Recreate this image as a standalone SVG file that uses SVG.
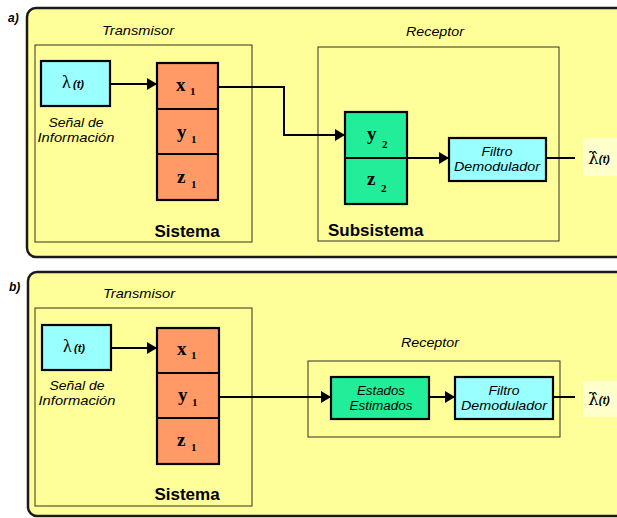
<svg xmlns="http://www.w3.org/2000/svg" width="617" height="518" viewBox="0 0 617 518">
<style>
.panel{fill:#FFFF99;stroke:#1a1a1a;stroke-width:2.5}
.frame{fill:none;stroke:#333322;stroke-width:1}
.blk{stroke:#000;stroke-width:2.2}
.cyan{fill:#99FFFF}
.orange{fill:#FF9966}
.green{fill:#22EE99}
.lbl{font-family:"Liberation Sans",Arial,sans-serif;font-style:italic;font-size:13px;fill:#000;text-anchor:middle}
.big{font-family:"Liberation Sans",Arial,sans-serif;font-weight:bold;font-size:17px;fill:#000}
.var{font-family:"Liberation Serif","Times New Roman",serif;font-weight:bold;font-size:19px;fill:#000}
.sub{font-family:"Liberation Serif","Times New Roman",serif;font-weight:bold;font-size:11px;fill:#000}
.lam{font-family:"Liberation Serif","Times New Roman",serif;font-size:18px;fill:#000}
.hat{font-family:"DejaVu Serif","Liberation Serif",serif;font-size:17px;fill:#000}
.t{font-family:"Liberation Sans",Arial,sans-serif;font-style:italic;font-weight:bold;font-size:11px;fill:#000}
.tag{font-family:"Liberation Sans",Arial,sans-serif;font-style:italic;font-weight:bold;font-size:12px;fill:#000}
.conn{fill:none;stroke:#000;stroke-width:2}
</style>
<defs>
<marker id="ah" viewBox="0 0 10 12" refX="10" refY="6" markerWidth="10" markerHeight="12" markerUnits="userSpaceOnUse" orient="auto">
<path d="M0,0 L10,6 L0,12 Z" fill="#000"/>
</marker>
</defs>

<!-- Panel a -->
<g id="panel-a">
<rect class="panel" x="27" y="8" width="620" height="249" rx="9"/>
<text class="tag" x="8" y="22">a)</text>
</g>
<g id="transmisor-a">
<rect class="frame" x="35" y="45" width="217" height="197"/>
<text class="lbl" x="138" y="35" textLength="72" lengthAdjust="spacingAndGlyphs">Transmisor</text>
<text class="big" x="187" y="237" text-anchor="middle">Sistema</text>
</g>
<g id="lambda-a">
<rect class="cyan blk" x="41" y="61" width="69" height="45"/>
<text class="lam" x="62" y="88">λ</text><text class="t" x="73" y="88">(t)</text>
<text class="lbl" x="76" y="127" textLength="55" lengthAdjust="spacingAndGlyphs">Señal de</text>
<text class="lbl" x="76" y="142" textLength="77" lengthAdjust="spacingAndGlyphs">Información</text>
</g>
<g id="sistema-a">
<rect class="orange blk" x="157" y="63" width="61" height="137"/>
<line class="blk" x1="157" y1="109" x2="218" y2="109"/>
<line class="blk" x1="157" y1="154" x2="218" y2="154"/>
<text class="var" x="176" y="91">x</text><text class="sub" x="190" y="95">1</text>
<text class="var" x="177" y="138">y</text><text class="sub" x="191" y="143">1</text>
<text class="var" x="177" y="183">z</text><text class="sub" x="191" y="188">1</text>
</g>
<g id="receptor-a">
<rect class="frame" x="318" y="47" width="241" height="194"/>
<text class="lbl" x="435" y="36" textLength="58" lengthAdjust="spacingAndGlyphs">Receptor</text>
<text class="big" x="328" y="236">Subsistema</text>
</g>
<g id="subsistema-a">
<rect class="green blk" x="345" y="112" width="62" height="92"/>
<line class="blk" x1="345" y1="158" x2="407" y2="158"/>
<text class="var" x="367" y="140">y</text><text class="sub" x="382" y="148">2</text>
<text class="var" x="367" y="185">z</text><text class="sub" x="381" y="192">2</text>
</g>
<g id="filtro-a">
<rect class="cyan blk" x="449" y="138" width="97" height="43"/>
<text class="lbl" x="497" y="156" textLength="31" lengthAdjust="spacingAndGlyphs">Filtro</text>
<text class="lbl" x="497" y="171" textLength="86" lengthAdjust="spacingAndGlyphs">Demodulador</text>
</g>
<g id="salida-a">
<rect x="583" y="138" width="34" height="38" fill="#FFFFCC"/>
<text class="hat" x="588" y="164">λ̂<tspan class="t" font-size="10" dy="-1">(t)</tspan></text>
</g>

<!-- Panel b -->
<g id="panel-b">
<rect class="panel" x="28" y="272" width="620" height="244" rx="9"/>
<text class="tag" x="9" y="291">b)</text>
</g>
<g id="transmisor-b">
<rect class="frame" x="35" y="308" width="217" height="198"/>
<text class="lbl" x="139" y="298" textLength="72" lengthAdjust="spacingAndGlyphs">Transmisor</text>
<text class="big" x="187" y="500" text-anchor="middle">Sistema</text>
</g>
<g id="lambda-b">
<rect class="cyan blk" x="42" y="325" width="69" height="45"/>
<text class="lam" x="63" y="352">λ</text><text class="t" x="74" y="352">(t)</text>
<text class="lbl" x="77" y="390" textLength="55" lengthAdjust="spacingAndGlyphs">Señal de</text>
<text class="lbl" x="77" y="405" textLength="77" lengthAdjust="spacingAndGlyphs">Información</text>
</g>
<g id="sistema-b">
<rect class="orange blk" x="157" y="328" width="62" height="136"/>
<line class="blk" x1="157" y1="373" x2="219" y2="373"/>
<line class="blk" x1="157" y1="418" x2="219" y2="418"/>
<text class="var" x="177" y="355">x</text><text class="sub" x="191" y="359">1</text>
<text class="var" x="178" y="401">y</text><text class="sub" x="192" y="406">1</text>
<text class="var" x="177" y="446">z</text><text class="sub" x="191" y="451">1</text>
</g>
<g id="receptor-b">
<rect class="frame" x="308" y="361" width="252" height="76"/>
<text class="lbl" x="430" y="347" textLength="58" lengthAdjust="spacingAndGlyphs">Receptor</text>
</g>
<g id="estados-b">
<rect class="green blk" x="331" y="377" width="98" height="42"/>
<text class="lbl" x="381" y="395" textLength="48" lengthAdjust="spacingAndGlyphs">Estados</text>
<text class="lbl" x="381" y="410" textLength="63" lengthAdjust="spacingAndGlyphs">Estimados</text>
</g>
<g id="filtro-b">
<rect class="cyan blk" x="455" y="377" width="98" height="42"/>
<text class="lbl" x="504" y="395" textLength="31" lengthAdjust="spacingAndGlyphs">Filtro</text>
<text class="lbl" x="504" y="410" textLength="86" lengthAdjust="spacingAndGlyphs">Demodulador</text>
</g>
<g id="salida-b">
<rect x="583" y="381" width="34" height="36" fill="#FFFFCC"/>
<text class="hat" x="588" y="405">λ̂<tspan class="t" font-size="10" dy="-1">(t)</tspan></text>
</g>

<g id="connectors">
<line class="conn" x1="110" y1="84" x2="157" y2="84" marker-end="url(#ah)"/>
<polyline class="conn" points="218,87 284,87 284,135 345,135" marker-end="url(#ah)"/>
<line class="conn" x1="407" y1="158" x2="449" y2="158" marker-end="url(#ah)"/>
<line class="conn" x1="546" y1="158" x2="575" y2="158"/>
<line class="conn" x1="111" y1="348" x2="157" y2="348" marker-end="url(#ah)"/>
<line class="conn" x1="219" y1="397" x2="331" y2="397" marker-end="url(#ah)"/>
<line class="conn" x1="429" y1="397" x2="455" y2="397" marker-end="url(#ah)"/>
<line class="conn" x1="553" y1="397" x2="575" y2="397"/>
</g>
</svg>
